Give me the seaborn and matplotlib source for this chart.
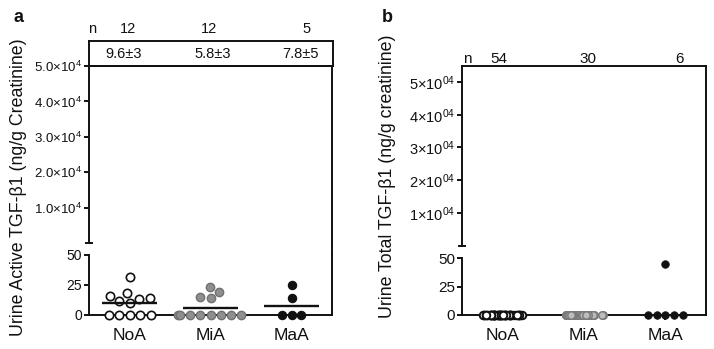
import warnings
import numpy as np
import pandas as pd
import matplotlib
matplotlib.use("Agg")
import matplotlib.pyplot as plt
import seaborn as sns
from matplotlib.lines import Line2D

sns.set_theme(style="white")
plt.rcParams['font.family'] = ['Liberation Sans', 'DejaVu Sans']
plt.rcParams['mathtext.fontset'] = 'custom'
plt.rcParams['mathtext.rm'] = 'Liberation Sans'
plt.rcParams['mathtext.it'] = 'Liberation Sans:italic'
plt.rcParams['mathtext.bf'] = 'Liberation Sans:bold'
np.random.seed(3)

# ---------------- data ----------------
groups = ["NoA", "MiA", "MaA"]

# panel a: urine active TGF-beta1 (ng/g creatinine)
a_noa = [32, 18, 16, 14, 13, 12, 10, 0, 0, 0, 0, 0]
a_mia = [23, 19, 15, 14, 0, 0, 0, 0, 0, 0, 0, 0]
a_maa = [25, 14, 0, 0, 0]
a_n = ["12", "12", "5"]
a_mean_sd = ["9.6±3", "5.8±3", "7.8±5"]
a_means = [9.6, 5.8, 7.8]
a_upper_ticks = [1e4, 2e4, 3e4, 4e4, 5e4]
a_upper_labels = ["1.0×10$^4$", "2.0×10$^4$", "3.0×10$^4$", "4.0×10$^4$", "5.0×10$^4$"]
lower_ticks = [0, 25, 50]

# panel b: urine total TGF-beta1 (ng/g creatinine)
b_noa = [0] * 54
b_mia = [0] * 30
b_maa = [45, 0, 0, 0, 0, 0]
b_n = ["54", "30", "6"]
b_upper_ticks = [1e4, 2e4, 3e4, 4e4, 5e4]
b_upper_labels = ["1×10$^{04}$", "2×10$^{04}$", "3×10$^{04}$", "4×10$^{04}$", "5×10$^{04}$"]

# ---------------- layout helpers ----------------
W, H = 714, 349
fig = plt.figure(figsize=(W / 100, H / 100), dpi=100)


def px_axes(x0, y0, x1, y1):
    return fig.add_axes([x0 / W, 1 - y1 / H, (x1 - x0) / W, (y1 - y0) / H])


LW = 1.4
ink = "#111111"


def frame(ax, spines):
    for s in ["left", "right", "top", "bottom"]:
        ax.spines[s].set_visible(s in spines)
        ax.spines[s].set_linewidth(LW)
        ax.spines[s].set_color(ink)
    ax.set_facecolor("none")


def make_df(vals):
    rows = [(g, v) for g, vs in zip(groups, vals) for v in vs]
    return pd.DataFrame(rows, columns=["group", "value"])


def points(ax, vals, styles, size, kinds):
    df = make_df(vals)
    for g, st, kind in zip(groups, styles, kinds):
        sub = df[df.group == g]
        kw = dict(data=sub, x="group", y="value", order=groups, color=st[0],
                  edgecolor=st[1], linewidth=st[2], size=size, ax=ax, zorder=4)
        if kind == "swarm":
            sns.swarmplot(**kw)
        else:
            sns.stripplot(jitter=kind, **kw)
    for c in ax.collections:
        c.set_clip_on(False)
    ax.set_xlabel("")
    ax.set_ylabel("")


def upper_axis(ax, top, ticks, labels, fs):
    frame(ax, ["left", "right", "top"])
    ax.set_xlim(-0.5, 2.5)
    ax.set_ylim(0, top)
    ax.set_xticks([])
    ax.set_yticks(ticks)
    ax.set_yticklabels(labels, fontsize=fs, color=ink)
    ax.set_yticks([0], minor=True)
    ax.tick_params(axis="y", which="major", direction="out", length=3.5, width=LW,
                   color=ink, left=True, pad=1.5)
    ax.tick_params(axis="y", which="minor", direction="inout", length=5.5, width=LW,
                   color=ink, left=True)


def lower_axis(ax, fs_y, fs_x, xtick_len):
    frame(ax, ["left", "right", "bottom"])
    ax.set_xlim(-0.5, 2.5)
    ax.set_ylim(0, 50)
    ax.set_yticks(lower_ticks)
    ax.set_yticklabels([str(t) for t in lower_ticks], fontsize=fs_y, color=ink)
    ax.set_xticks(range(len(groups)))
    ax.set_xticklabels(groups, fontsize=fs_x, color=ink)
    ax.tick_params(axis="y", direction="out", length=3.5, width=LW, color=ink, left=True, pad=1.5)
    ax.tick_params(axis="x", direction="out", length=xtick_len, width=LW, color=ink,
                   bottom=xtick_len > 0, pad=9 - xtick_len)


# ---------------- panel a ----------------
a_box = px_axes(89, 41, 333, 66)
frame(a_box, ["left", "right", "top", "bottom"])
a_box.set_xlim(-0.5, 2.5)
a_box.set_ylim(0, 1)
a_box.set_xticks([])
a_box.set_yticks([])
for x, t in zip([-0.08, 1.02, 2.10], a_mean_sd):
    a_box.text(x, 0.48, t, ha="center", va="center", fontsize=10.5, color=ink)
for x, t in zip([-0.46, -0.02, 0.98, 2.17], ["n"] + a_n):
    a_box.text(x, 1.48, t, ha="center", va="center", fontsize=10.5, color=ink)

a_up = px_axes(89, 66, 332, 243)
upper_axis(a_up, 5e4, a_upper_ticks, a_upper_labels, 9.5)

a_lo = px_axes(89, 255, 332, 315)
points(a_lo, [a_noa, a_mia, a_maa],
       [("white", "#111111", 1.2), ("#8f8f8f", "#707070", 1.0), ("#111111", "#111111", 0.8)],
       size=6.0, kinds=["swarm", "swarm", "swarm"])
lower_axis(a_lo, 10, 12.5, 0)
a_lo.hlines(a_means, np.arange(len(groups)) - 0.34, np.arange(len(groups)) + 0.34,
            color=ink, lw=1.7, zorder=5)
fig.add_artist(Line2D([332 / W, 332 / W], [1 - 255 / H, 1 - 243 / H], color=ink, lw=LW))

fig.text(19 / W, 1 - 187 / H, "Urine Active TGF-β1 (ng/g Creatinine)", rotation=90,
         ha="center", va="center", fontsize=12.8, color=ink)
fig.text(19 / W, 1 - 17 / H, "a", ha="center", va="center", fontsize=13,
         fontweight="bold", color=ink)

# ---------------- panel b ----------------
b_up = px_axes(462, 66, 706, 245.5)
upper_axis(b_up, 5.49e4, b_upper_ticks, b_upper_labels, 10.5)
for x, t in zip([-0.44, -0.045, 1.05, 2.18], ["n"] + b_n):
    b_up.text(x, 1.0, t, transform=b_up.get_xaxis_transform(), ha="center",
              va="bottom", fontsize=11, color=ink)

b_lo = px_axes(462, 258, 706, 315)
points(b_lo, [b_noa, b_mia, b_maa],
       [("white", "#111111", 1.4), ("#bdbdbd", "#7a7a7a", 1.1), ("#111111", "#111111", 0.6)],
       size=5.4, kinds=[0.25, 0.25, "swarm"])
lower_axis(b_lo, 11, 12.5, 3.5)
fig.add_artist(Line2D([706 / W, 706 / W], [1 - 258 / H, 1 - 245.5 / H], color=ink, lw=LW))

fig.text(388 / W, 1 - 176 / H, "Urine Total TGF-β1 (ng/g creatinine)", rotation=90,
         ha="center", va="center", fontsize=12.8, color=ink)
fig.text(387 / W, 1 - 17 / H, "b", ha="center", va="center", fontsize=13,
         fontweight="bold", color=ink)

with warnings.catch_warnings():
    warnings.simplefilter("ignore")
    fig.savefig("out.png", dpi=100, facecolor="white")
